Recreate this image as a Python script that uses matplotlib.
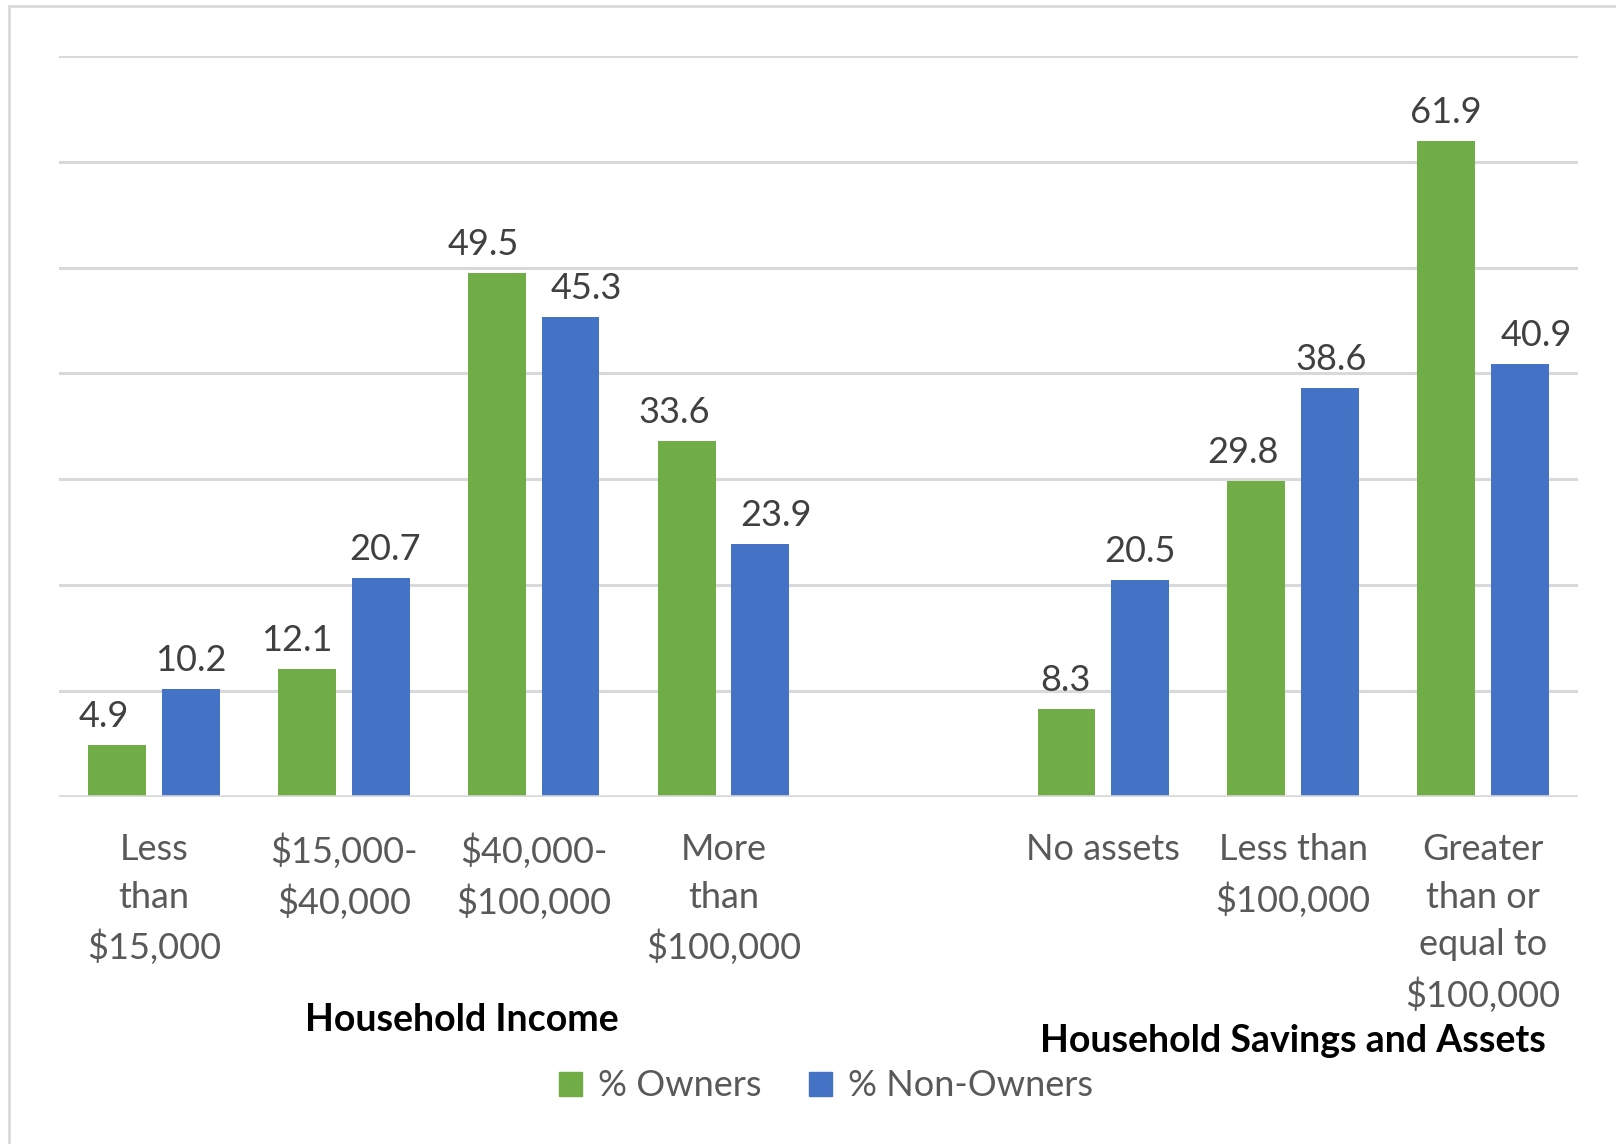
import numpy as np
import matplotlib
matplotlib.use('Agg')
import matplotlib.pyplot as plt
from matplotlib.patches import Rectangle, Patch

# Survey shares by household income and by savings/assets
categories = ['Less\nthan\n$15,000', '$15,000-\n$40,000', '$40,000-\n$100,000',
              'More\nthan\n$100,000', '', 'No assets', 'Less than\n$100,000',
              'Greater\nthan or\nequal to\n$100,000']
owners = [4.9, 12.1, 49.5, 33.6, None, 8.3, 29.8, 61.9]
non_owners = [10.2, 20.7, 45.3, 23.9, None, 20.5, 38.6, 40.9]
group_titles = ['Household Income', 'Household Savings and Assets']

GREEN = '#70ad47'
BLUE = '#4472c4'
GRID = '#d9d9d9'
TEXT = '#595959'
LABEL = '#404040'

plt.rcParams['font.family'] = ['Lato', 'DejaVu Sans']

W, H = 1616, 1144
fig = plt.figure(figsize=(W / 100, H / 100), dpi=100)

# outer chart frame
fig.patches.append(Rectangle((9 / W, -0.05), 1.2, 1 - 6 / H + 0.05,
                             transform=fig.transFigure, fill=False,
                             edgecolor=GRID, linewidth=2))

ax = fig.add_axes([59 / W, 1 - 797 / H, (1578 - 59) / W, (797 - 55.7) / H])
ax.set_xlim(-0.5, len(categories) - 0.5)
ax.set_ylim(0, 70)

x = np.arange(len(categories))
bw = 0.305
off = 0.194

# horizontal grid
for v in range(10, 71, 10):
    ax.axhline(v, color=GRID, linewidth=2.2, zorder=0)
ax.axhline(0, color=GRID, linewidth=2.6, zorder=3)

# small horizontal nudges (pixels) so neighbouring labels don't collide
nudge_own = [-13, -10, -14, -13, 0, -1, -13, 0]
nudge_non = [0, 4, 16, 16, 0, 0, 1, 16]

for i in x:
    if owners[i] is None:
        continue
    ax.bar(i - off, owners[i], bw, color=GREEN, zorder=2)
    ax.bar(i + off, non_owners[i], bw, color=BLUE, zorder=2)
    ax.annotate(f'{owners[i]:.1f}', (i - off, owners[i]),
                xytext=(nudge_own[i] * 0.72, 13), textcoords='offset points',
                ha='center', va='baseline', fontsize=26, color=LABEL)
    ax.annotate(f'{non_owners[i]:.1f}', (i + off, non_owners[i]),
                xytext=(nudge_non[i] * 0.72, 13), textcoords='offset points',
                ha='center', va='baseline', fontsize=26, color=LABEL)

ax.set_xticks(x)
ax.set_xticklabels(categories, fontsize=26, color=TEXT, linespacing=1.54)
ax.tick_params(axis='x', length=0, pad=26)
ax.set_yticks([])
for s in ax.spines.values():
    s.set_visible(False)

# group titles under the category labels
ax.annotate(group_titles[0], (1.62, 1 - 1020 / H), xycoords=('data', 'figure fraction'),
            ha='center', va='center', fontsize=27, fontweight='bold', color='black')
ax.annotate(group_titles[1], (6.0, 1 - 1041 / H), xycoords=('data', 'figure fraction'),
            ha='center', va='center', fontsize=27, fontweight='bold', color='black')

handles = [Patch(color=GREEN, label='% Owners'), Patch(color=BLUE, label='% Non-Owners')]
leg = fig.legend(handles=handles, loc='center', bbox_to_anchor=(826 / W, 1 - 1086 / H),
                 ncol=2, frameon=False, fontsize=26, handlelength=0.65, handleheight=0.65,
                 handletextpad=0.45, columnspacing=1.3)
for t in leg.get_texts():
    t.set_color(TEXT)

fig.savefig('out.png', dpi=100, facecolor='white')
